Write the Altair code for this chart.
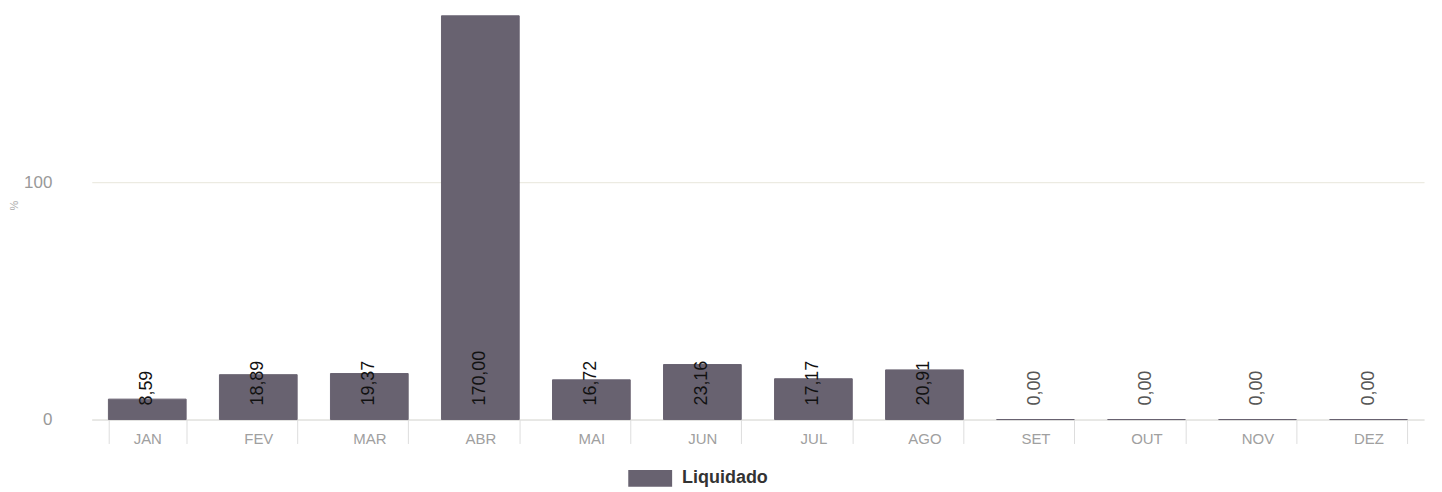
import altair as alt
import pandas as pd

months = ["JAN", "FEV", "MAR", "ABR", "MAI", "JUN", "JUL", "AGO", "SET", "OUT", "NOV", "DEZ"]
values = [8.59, 18.89, 19.37, 170.00, 16.72, 23.16, 17.17, 20.91, 0.00, 0.00, 0.00, 0.00]
series = ["Liquidado"] * len(months)

df = pd.DataFrame({"mes": months, "valor": values, "serie": series})

bar_color = "#686270"

x_enc = alt.X(
    "mes:N",
    sort=months,
    title=None,
    scale=alt.Scale(paddingInner=0.3, paddingOuter=0.15),
    axis=alt.Axis(
        labelAngle=0,
        labelColor="#a0a0a0",
        labelFontSize=15,
        labelFont="Liberation Sans",
        tickBand="extent",
        tickColor="#dddddd",
        tickSize=24,
        labelPadding=-12,
        domainColor="#dddddd",
        grid=False,
    ),
)

y_scale = alt.Scale(domain=[0, 173], nice=False)

bars = alt.Chart(df).mark_bar(stroke=bar_color, strokeWidth=1).encode(
    x=x_enc,
    y=alt.Y(
        "valor:Q",
        scale=y_scale,
        title="%",
        axis=alt.Axis(
            values=[0, 100],
            ticks=False,
            domain=False,
            grid=True,
            gridColor="#e8e6dc",
            labelColor="#999999",
            labelFontSize=17,
            labelFont="Liberation Sans",
            labelPadding=40,
            titleColor="#aaaaaa",
            titleFontSize=11,
            titleFontWeight="normal",
            titleX=-72,
            titleY=197,
        ),
    ),
    color=alt.Color(
        "serie:N",
        scale=alt.Scale(range=[bar_color]),
        legend=alt.Legend(
            title=None,
            orient="none",
            legendX=543,
            legendY=454,
            symbolType="M-1.3,-0.5H1.3V0.5H-1.3Z",
            symbolSize=1145,
            symbolStrokeWidth=0,
            labelFontSize=18,
            labelFontWeight="bold",
            labelColor="#333333",
            labelFont="Liberation Sans",
            labelOffset=15,
        ),
    ),
)

labels = alt.Chart(df).transform_calculate(
    rotulo="replace(format(datum.valor, '.2f'), '.', ',')"
).mark_text(
    angle=270, align="left", baseline="middle", dx=14, fontSize=18, font="Liberation Sans"
).encode(
    x=alt.X("mes:N", sort=months),
    y=alt.datum(0, scale=y_scale),
    text="rotulo:N",
    color=alt.condition("datum.valor > 0", alt.value("#111111"), alt.value("#555555")),
)

chart = alt.layer(bars, labels).properties(
    width=1336,
    height=412,
    background="white",
    autosize=alt.AutoSizeParams(type="none"),
    padding={"left": 84, "top": 0, "right": 10, "bottom": 80},
).configure_view(stroke=None)

chart.save("out.html", embed_options={"renderer": "svg", "actions": False})
